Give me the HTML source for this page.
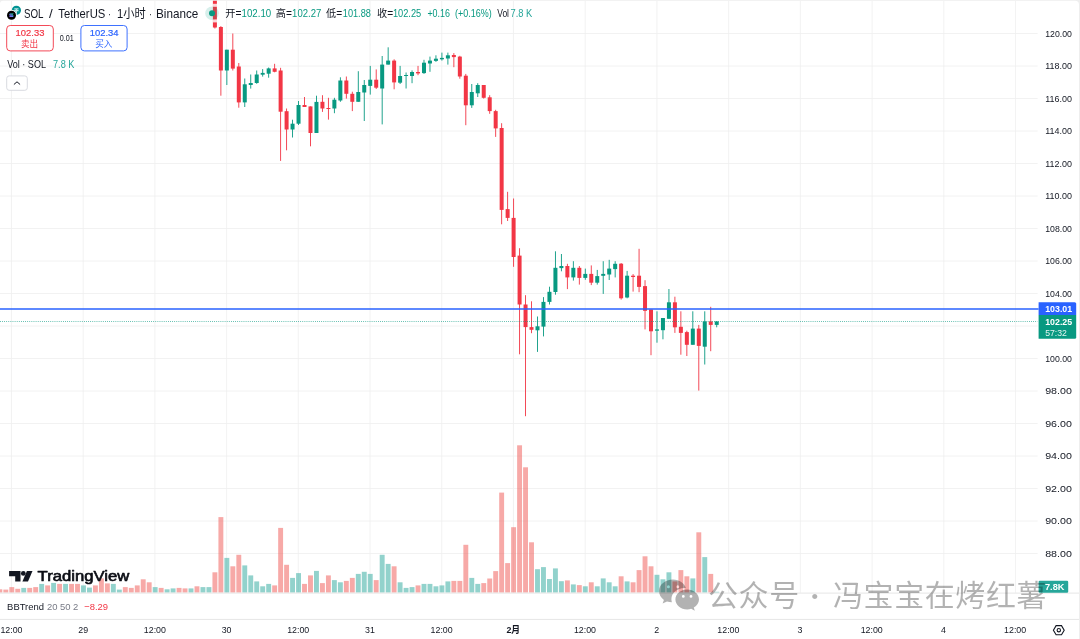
<!DOCTYPE html><html><head><meta charset="utf-8"><title>SOL / TetherUS</title><style>html,body{margin:0;padding:0;background:#fff}svg{display:block;will-change:transform;-webkit-font-smoothing:antialiased}</style></head><body><svg width="1080" height="639" viewBox="0 0 1080 639" font-family='"Liberation Sans", "Noto Sans CJK SC", sans-serif'>
<rect x="0" y="0" width="1080" height="639" fill="#fff"/>
<g stroke="#efefef" stroke-width="0.8" fill="none"><line x1="11.44" y1="1" x2="11.44" y2="592.8"/><line x1="83.16" y1="1" x2="83.16" y2="592.8"/><line x1="154.88" y1="1" x2="154.88" y2="592.8"/><line x1="226.60" y1="1" x2="226.60" y2="592.8"/><line x1="298.32" y1="1" x2="298.32" y2="592.8"/><line x1="370.04" y1="1" x2="370.04" y2="592.8"/><line x1="441.76" y1="1" x2="441.76" y2="592.8"/><line x1="513.48" y1="1" x2="513.48" y2="592.8"/><line x1="585.20" y1="1" x2="585.20" y2="592.8"/><line x1="656.92" y1="1" x2="656.92" y2="592.8"/><line x1="728.64" y1="1" x2="728.64" y2="592.8"/><line x1="800.36" y1="1" x2="800.36" y2="592.8"/><line x1="872.08" y1="1" x2="872.08" y2="592.8"/><line x1="943.80" y1="1" x2="943.80" y2="592.8"/><line x1="1015.52" y1="1" x2="1015.52" y2="592.8"/><line x1="0" y1="553.50" x2="1037.6" y2="553.50"/><line x1="0" y1="521.00" x2="1037.6" y2="521.00"/><line x1="0" y1="488.50" x2="1037.6" y2="488.50"/><line x1="0" y1="456.00" x2="1037.6" y2="456.00"/><line x1="0" y1="423.50" x2="1037.6" y2="423.50"/><line x1="0" y1="391.00" x2="1037.6" y2="391.00"/><line x1="0" y1="358.50" x2="1037.6" y2="358.50"/><line x1="0" y1="326.00" x2="1037.6" y2="326.00"/><line x1="0" y1="293.50" x2="1037.6" y2="293.50"/><line x1="0" y1="261.00" x2="1037.6" y2="261.00"/><line x1="0" y1="228.50" x2="1037.6" y2="228.50"/><line x1="0" y1="196.00" x2="1037.6" y2="196.00"/><line x1="0" y1="163.50" x2="1037.6" y2="163.50"/><line x1="0" y1="131.00" x2="1037.6" y2="131.00"/><line x1="0" y1="98.50" x2="1037.6" y2="98.50"/><line x1="0" y1="66.00" x2="1037.6" y2="66.00"/><line x1="0" y1="33.50" x2="1037.6" y2="33.50"/></g>
<g fill="#ef5350" fill-opacity="0.5"><rect x="-2.61" y="589.30" width="4.9" height="3.30"/><rect x="3.36" y="589.60" width="4.9" height="3.00"/><rect x="9.34" y="587.10" width="4.9" height="5.50"/><rect x="15.31" y="588.80" width="4.9" height="3.80"/><rect x="27.26" y="587.90" width="4.9" height="4.70"/><rect x="33.23" y="587.10" width="4.9" height="5.50"/><rect x="45.18" y="585.40" width="4.9" height="7.20"/><rect x="57.13" y="583.90" width="4.9" height="8.70"/><rect x="69.08" y="583.90" width="4.9" height="8.70"/><rect x="75.05" y="583.90" width="4.9" height="8.70"/><rect x="92.97" y="585.40" width="4.9" height="7.20"/><rect x="98.95" y="578.40" width="4.9" height="14.20"/><rect x="104.92" y="583.40" width="4.9" height="9.20"/><rect x="122.84" y="587.10" width="4.9" height="5.50"/><rect x="128.82" y="587.90" width="4.9" height="4.70"/><rect x="134.79" y="585.40" width="4.9" height="7.20"/><rect x="140.76" y="579.30" width="4.9" height="13.30"/><rect x="146.74" y="582.30" width="4.9" height="10.30"/><rect x="158.69" y="587.90" width="4.9" height="4.70"/><rect x="176.61" y="587.90" width="4.9" height="4.70"/><rect x="182.58" y="588.40" width="4.9" height="4.20"/><rect x="194.53" y="586.30" width="4.9" height="6.30"/><rect x="212.45" y="572.30" width="4.9" height="20.30"/><rect x="218.43" y="517.10" width="4.9" height="75.50"/><rect x="230.37" y="566.30" width="4.9" height="26.30"/><rect x="236.35" y="554.80" width="4.9" height="37.80"/><rect x="272.19" y="585.40" width="4.9" height="7.20"/><rect x="278.17" y="527.90" width="4.9" height="64.70"/><rect x="284.14" y="564.80" width="4.9" height="27.80"/><rect x="302.06" y="583.90" width="4.9" height="8.70"/><rect x="308.04" y="575.40" width="4.9" height="17.20"/><rect x="319.98" y="583.10" width="4.9" height="9.50"/><rect x="325.96" y="575.40" width="4.9" height="17.20"/><rect x="343.88" y="580.90" width="4.9" height="11.70"/><rect x="349.85" y="577.90" width="4.9" height="14.70"/><rect x="373.75" y="580.10" width="4.9" height="12.50"/><rect x="391.67" y="566.30" width="4.9" height="26.30"/><rect x="415.57" y="585.40" width="4.9" height="7.20"/><rect x="451.41" y="580.90" width="4.9" height="11.70"/><rect x="457.39" y="580.90" width="4.9" height="11.70"/><rect x="463.36" y="544.80" width="4.9" height="47.80"/><rect x="481.28" y="583.10" width="4.9" height="9.50"/><rect x="487.26" y="578.50" width="4.9" height="14.10"/><rect x="493.23" y="571.10" width="4.9" height="21.50"/><rect x="499.20" y="492.60" width="4.9" height="100.00"/><rect x="505.18" y="563.10" width="4.9" height="29.50"/><rect x="511.15" y="527.20" width="4.9" height="65.40"/><rect x="517.13" y="445.30" width="4.9" height="147.30"/><rect x="523.10" y="467.30" width="4.9" height="125.30"/><rect x="529.07" y="542.30" width="4.9" height="50.30"/><rect x="564.92" y="580.40" width="4.9" height="12.20"/><rect x="576.87" y="585.10" width="4.9" height="7.50"/><rect x="588.81" y="582.30" width="4.9" height="10.30"/><rect x="618.68" y="576.30" width="4.9" height="16.30"/><rect x="630.63" y="582.30" width="4.9" height="10.30"/><rect x="636.61" y="570.10" width="4.9" height="22.50"/><rect x="642.58" y="556.30" width="4.9" height="36.30"/><rect x="648.55" y="566.30" width="4.9" height="26.30"/><rect x="672.45" y="581.40" width="4.9" height="11.20"/><rect x="678.42" y="570.10" width="4.9" height="22.50"/><rect x="684.40" y="576.30" width="4.9" height="16.30"/><rect x="696.35" y="532.30" width="4.9" height="60.30"/><rect x="708.29" y="573.90" width="4.9" height="18.70"/></g>
<g fill="#26a69a" fill-opacity="0.5"><rect x="21.28" y="587.90" width="4.9" height="4.70"/><rect x="39.21" y="583.90" width="4.9" height="8.70"/><rect x="51.15" y="582.90" width="4.9" height="9.70"/><rect x="63.10" y="583.90" width="4.9" height="8.70"/><rect x="81.02" y="585.40" width="4.9" height="7.20"/><rect x="87.00" y="587.60" width="4.9" height="5.00"/><rect x="110.89" y="583.90" width="4.9" height="8.70"/><rect x="116.87" y="589.60" width="4.9" height="3.00"/><rect x="152.71" y="587.10" width="4.9" height="5.50"/><rect x="164.66" y="589.30" width="4.9" height="3.30"/><rect x="170.63" y="588.40" width="4.9" height="4.20"/><rect x="188.56" y="588.40" width="4.9" height="4.20"/><rect x="200.50" y="587.10" width="4.9" height="5.50"/><rect x="206.48" y="587.10" width="4.9" height="5.50"/><rect x="224.40" y="557.90" width="4.9" height="34.70"/><rect x="242.32" y="565.40" width="4.9" height="27.20"/><rect x="248.30" y="575.40" width="4.9" height="17.20"/><rect x="254.27" y="581.40" width="4.9" height="11.20"/><rect x="260.24" y="586.30" width="4.9" height="6.30"/><rect x="266.22" y="583.90" width="4.9" height="8.70"/><rect x="290.11" y="577.90" width="4.9" height="14.70"/><rect x="296.09" y="573.10" width="4.9" height="19.50"/><rect x="314.01" y="570.90" width="4.9" height="21.70"/><rect x="331.93" y="580.10" width="4.9" height="12.50"/><rect x="337.91" y="582.30" width="4.9" height="10.30"/><rect x="355.83" y="573.90" width="4.9" height="18.70"/><rect x="361.80" y="571.80" width="4.9" height="20.80"/><rect x="367.78" y="573.90" width="4.9" height="18.70"/><rect x="379.72" y="554.80" width="4.9" height="37.80"/><rect x="385.70" y="563.90" width="4.9" height="28.70"/><rect x="397.65" y="582.30" width="4.9" height="10.30"/><rect x="403.62" y="587.90" width="4.9" height="4.70"/><rect x="409.59" y="587.10" width="4.9" height="5.50"/><rect x="421.54" y="583.90" width="4.9" height="8.70"/><rect x="427.52" y="583.90" width="4.9" height="8.70"/><rect x="433.49" y="586.30" width="4.9" height="6.30"/><rect x="439.46" y="585.40" width="4.9" height="7.20"/><rect x="445.44" y="581.40" width="4.9" height="11.20"/><rect x="469.33" y="577.90" width="4.9" height="14.70"/><rect x="475.31" y="583.90" width="4.9" height="8.70"/><rect x="535.05" y="569.20" width="4.9" height="23.40"/><rect x="541.02" y="567.10" width="4.9" height="25.50"/><rect x="547.00" y="579.00" width="4.9" height="13.60"/><rect x="552.97" y="568.40" width="4.9" height="24.20"/><rect x="558.94" y="581.20" width="4.9" height="11.40"/><rect x="570.89" y="584.40" width="4.9" height="8.20"/><rect x="582.84" y="586.30" width="4.9" height="6.30"/><rect x="594.79" y="586.30" width="4.9" height="6.30"/><rect x="600.76" y="578.40" width="4.9" height="14.20"/><rect x="606.74" y="582.30" width="4.9" height="10.30"/><rect x="612.71" y="586.30" width="4.9" height="6.30"/><rect x="624.66" y="581.40" width="4.9" height="11.20"/><rect x="654.53" y="574.80" width="4.9" height="17.80"/><rect x="660.50" y="579.30" width="4.9" height="13.30"/><rect x="666.48" y="572.30" width="4.9" height="20.30"/><rect x="690.37" y="578.40" width="4.9" height="14.20"/><rect x="702.32" y="557.10" width="4.9" height="35.50"/><rect x="714.27" y="591.80" width="4.9" height="0.80"/></g>
<g fill="#f23645"><rect x="214.45" y="0.00" width="0.9" height="28.50"/><rect x="212.90" y="0.00" width="4" height="27.50"/><rect x="220.43" y="26.10" width="0.9" height="69.60"/><rect x="218.88" y="27.00" width="4" height="43.50"/><rect x="232.37" y="33.50" width="0.9" height="37.00"/><rect x="230.82" y="49.70" width="4" height="18.90"/><rect x="238.35" y="63.00" width="0.9" height="44.70"/><rect x="236.80" y="66.50" width="4" height="35.90"/><rect x="274.19" y="63.80" width="0.9" height="8.50"/><rect x="272.64" y="68.40" width="4" height="3.40"/><rect x="280.17" y="67.80" width="0.9" height="93.10"/><rect x="278.62" y="70.50" width="4" height="41.20"/><rect x="286.14" y="108.50" width="0.9" height="41.80"/><rect x="284.59" y="111.20" width="4" height="18.30"/><rect x="304.06" y="97.00" width="0.9" height="10.00"/><rect x="302.51" y="105.00" width="4" height="2.00"/><rect x="310.04" y="106.40" width="0.9" height="39.90"/><rect x="308.49" y="106.40" width="4" height="26.60"/><rect x="321.98" y="95.20" width="0.9" height="16.70"/><rect x="320.43" y="101.80" width="4" height="6.70"/><rect x="327.96" y="97.80" width="0.9" height="21.80"/><rect x="326.41" y="108.00" width="4" height="1.00"/><rect x="345.88" y="76.50" width="0.9" height="22.10"/><rect x="344.33" y="80.50" width="4" height="13.30"/><rect x="351.85" y="91.70" width="0.9" height="19.40"/><rect x="350.30" y="93.80" width="4" height="8.00"/><rect x="375.75" y="69.40" width="0.9" height="19.60"/><rect x="374.20" y="79.70" width="4" height="8.00"/><rect x="393.67" y="59.30" width="0.9" height="30.00"/><rect x="392.12" y="60.60" width="4" height="21.80"/><rect x="417.57" y="65.90" width="0.9" height="9.30"/><rect x="416.02" y="72.00" width="4" height="1.40"/><rect x="453.41" y="53.10" width="0.9" height="14.10"/><rect x="451.86" y="55.00" width="4" height="2.10"/><rect x="459.39" y="55.80" width="0.9" height="22.90"/><rect x="457.84" y="56.60" width="4" height="19.90"/><rect x="465.36" y="73.90" width="0.9" height="51.30"/><rect x="463.81" y="75.70" width="4" height="29.60"/><rect x="483.28" y="85.00" width="0.9" height="13.60"/><rect x="481.73" y="85.00" width="4" height="12.80"/><rect x="489.26" y="95.20" width="0.9" height="18.60"/><rect x="487.71" y="97.30" width="4" height="13.80"/><rect x="495.23" y="109.80" width="0.9" height="27.10"/><rect x="493.68" y="111.10" width="4" height="17.30"/><rect x="501.20" y="123.20" width="0.9" height="101.10"/><rect x="499.65" y="128.00" width="4" height="81.90"/><rect x="507.18" y="191.80" width="0.9" height="29.20"/><rect x="505.63" y="209.10" width="4" height="8.80"/><rect x="513.15" y="198.50" width="0.9" height="68.30"/><rect x="511.60" y="217.90" width="4" height="39.10"/><rect x="519.13" y="248.20" width="0.9" height="106.10"/><rect x="517.58" y="255.60" width="4" height="48.90"/><rect x="525.10" y="295.20" width="0.9" height="121.00"/><rect x="523.55" y="304.50" width="4" height="22.60"/><rect x="531.07" y="301.30" width="0.9" height="31.90"/><rect x="529.52" y="327.10" width="4" height="2.70"/><rect x="566.92" y="263.80" width="0.9" height="25.30"/><rect x="565.37" y="266.00" width="4" height="11.40"/><rect x="578.87" y="266.00" width="0.9" height="18.60"/><rect x="577.32" y="267.80" width="4" height="10.10"/><rect x="590.81" y="265.40" width="0.9" height="19.70"/><rect x="589.26" y="273.90" width="4" height="8.80"/><rect x="620.68" y="263.00" width="0.9" height="36.60"/><rect x="619.13" y="263.70" width="4" height="34.60"/><rect x="632.63" y="274.10" width="0.9" height="17.50"/><rect x="631.08" y="275.70" width="4" height="1.30"/><rect x="638.61" y="248.80" width="0.9" height="43.40"/><rect x="637.06" y="275.70" width="4" height="11.20"/><rect x="644.58" y="280.20" width="0.9" height="49.20"/><rect x="643.03" y="286.10" width="4" height="24.70"/><rect x="650.55" y="309.50" width="0.9" height="45.70"/><rect x="649.00" y="309.50" width="4" height="21.80"/><rect x="674.45" y="296.70" width="0.9" height="36.20"/><rect x="672.90" y="302.30" width="4" height="25.00"/><rect x="680.42" y="311.30" width="0.9" height="43.40"/><rect x="678.87" y="326.80" width="4" height="6.10"/><rect x="686.40" y="330.70" width="0.9" height="25.30"/><rect x="684.85" y="332.10" width="4" height="12.70"/><rect x="698.35" y="324.90" width="0.9" height="65.70"/><rect x="696.80" y="328.60" width="4" height="17.30"/><rect x="710.29" y="306.80" width="0.9" height="44.40"/><rect x="708.74" y="321.40" width="4" height="3.50"/></g>
<g fill="#089981"><rect x="226.40" y="49.70" width="0.9" height="35.30"/><rect x="224.85" y="49.70" width="4" height="20.80"/><rect x="244.32" y="78.50" width="0.9" height="28.50"/><rect x="242.77" y="84.30" width="4" height="18.10"/><rect x="250.30" y="74.50" width="0.9" height="14.10"/><rect x="248.75" y="83.00" width="4" height="2.00"/><rect x="256.27" y="70.50" width="0.9" height="13.30"/><rect x="254.72" y="74.50" width="4" height="8.50"/><rect x="262.24" y="69.10" width="0.9" height="7.50"/><rect x="260.69" y="72.90" width="4" height="1.80"/><rect x="268.22" y="67.50" width="0.9" height="10.20"/><rect x="266.67" y="68.40" width="4" height="5.30"/><rect x="292.11" y="119.70" width="0.9" height="17.80"/><rect x="290.56" y="123.70" width="4" height="5.80"/><rect x="298.09" y="101.00" width="0.9" height="24.00"/><rect x="296.54" y="105.00" width="4" height="18.70"/><rect x="316.01" y="95.70" width="0.9" height="37.30"/><rect x="314.46" y="101.90" width="4" height="31.10"/><rect x="333.93" y="97.80" width="0.9" height="15.40"/><rect x="332.38" y="99.70" width="4" height="8.80"/><rect x="339.91" y="77.30" width="0.9" height="24.50"/><rect x="338.36" y="80.50" width="4" height="20.00"/><rect x="357.83" y="71.20" width="0.9" height="30.60"/><rect x="356.28" y="92.00" width="4" height="9.80"/><rect x="363.80" y="80.00" width="0.9" height="41.00"/><rect x="362.25" y="85.00" width="4" height="7.50"/><rect x="369.78" y="65.90" width="0.9" height="28.70"/><rect x="368.23" y="79.70" width="4" height="6.20"/><rect x="381.72" y="56.00" width="0.9" height="68.40"/><rect x="380.17" y="64.60" width="4" height="23.90"/><rect x="387.70" y="47.30" width="0.9" height="17.30"/><rect x="386.15" y="60.60" width="4" height="4.00"/><rect x="399.65" y="65.90" width="0.9" height="18.10"/><rect x="398.10" y="76.00" width="4" height="6.70"/><rect x="405.62" y="72.50" width="0.9" height="16.00"/><rect x="404.07" y="75.00" width="4" height="1.00"/><rect x="411.59" y="70.40" width="0.9" height="12.80"/><rect x="410.04" y="72.00" width="4" height="4.00"/><rect x="423.54" y="59.80" width="0.9" height="14.10"/><rect x="421.99" y="62.70" width="4" height="10.40"/><rect x="429.52" y="56.60" width="0.9" height="15.20"/><rect x="427.97" y="60.60" width="4" height="2.90"/><rect x="435.49" y="55.30" width="0.9" height="6.60"/><rect x="433.94" y="58.70" width="4" height="2.20"/><rect x="441.46" y="52.60" width="0.9" height="8.00"/><rect x="439.91" y="57.90" width="4" height="1.40"/><rect x="447.44" y="52.60" width="0.9" height="12.00"/><rect x="445.89" y="55.30" width="4" height="3.20"/><rect x="471.33" y="84.00" width="0.9" height="23.90"/><rect x="469.78" y="92.00" width="4" height="13.30"/><rect x="477.31" y="83.20" width="0.9" height="13.80"/><rect x="475.76" y="85.00" width="4" height="8.30"/><rect x="537.05" y="316.50" width="0.9" height="35.40"/><rect x="535.50" y="326.30" width="4" height="4.00"/><rect x="543.02" y="297.10" width="0.9" height="39.30"/><rect x="541.47" y="301.90" width="4" height="24.70"/><rect x="549.00" y="286.70" width="0.9" height="17.80"/><rect x="547.45" y="291.80" width="4" height="10.10"/><rect x="554.97" y="251.30" width="0.9" height="43.40"/><rect x="553.42" y="267.80" width="4" height="24.20"/><rect x="560.94" y="254.00" width="0.9" height="17.30"/><rect x="559.39" y="266.00" width="4" height="2.10"/><rect x="572.89" y="261.20" width="0.9" height="19.40"/><rect x="571.34" y="267.80" width="4" height="9.60"/><rect x="584.84" y="268.60" width="0.9" height="11.20"/><rect x="583.29" y="273.90" width="4" height="4.00"/><rect x="596.79" y="269.90" width="0.9" height="14.70"/><rect x="595.24" y="276.10" width="4" height="6.60"/><rect x="602.76" y="261.20" width="0.9" height="32.70"/><rect x="601.21" y="273.90" width="4" height="1.90"/><rect x="608.74" y="259.80" width="0.9" height="20.20"/><rect x="607.19" y="268.60" width="4" height="5.90"/><rect x="614.71" y="261.20" width="0.9" height="16.20"/><rect x="613.16" y="263.80" width="4" height="5.30"/><rect x="626.66" y="270.90" width="0.9" height="27.40"/><rect x="625.11" y="275.70" width="4" height="21.80"/><rect x="656.53" y="311.30" width="0.9" height="31.40"/><rect x="654.98" y="329.40" width="4" height="1.30"/><rect x="662.50" y="318.00" width="0.9" height="21.30"/><rect x="660.95" y="318.00" width="4" height="12.20"/><rect x="668.48" y="289.00" width="0.9" height="29.80"/><rect x="666.93" y="302.30" width="4" height="16.50"/><rect x="692.37" y="311.30" width="0.9" height="33.50"/><rect x="690.82" y="328.60" width="4" height="16.20"/><rect x="704.32" y="311.30" width="0.9" height="53.20"/><rect x="702.77" y="321.40" width="4" height="25.30"/><rect x="716.27" y="321.40" width="0.9" height="5.90"/><rect x="714.72" y="321.40" width="4" height="3.50"/></g>
<line x1="0" y1="309.1" x2="1038.6" y2="309.1" stroke="#2962ff" stroke-width="1.5"/>
<line x1="0" y1="321.5" x2="1037.6" y2="321.5" stroke="#089981" stroke-width="0.8" stroke-dasharray="0.75 1.35"/>
<line x1="0" y1="593.1" x2="1080" y2="593.1" stroke="#e6e6e6" stroke-width="1"/>
<line x1="0" y1="619.4" x2="1080" y2="619.4" stroke="#e6e6e6" stroke-width="1"/>
<g font-size="9.5" fill="#131722"><text x="1045.2" y="556.60" textLength="26.7" lengthAdjust="spacingAndGlyphs">88.00</text><text x="1045.2" y="524.10" textLength="26.7" lengthAdjust="spacingAndGlyphs">90.00</text><text x="1045.2" y="491.60" textLength="26.7" lengthAdjust="spacingAndGlyphs">92.00</text><text x="1045.2" y="459.10" textLength="26.7" lengthAdjust="spacingAndGlyphs">94.00</text><text x="1045.2" y="426.60" textLength="26.7" lengthAdjust="spacingAndGlyphs">96.00</text><text x="1045.2" y="394.10" textLength="26.7" lengthAdjust="spacingAndGlyphs">98.00</text><text x="1045.2" y="361.60" textLength="26.7" lengthAdjust="spacingAndGlyphs">100.00</text><text x="1045.2" y="329.10" textLength="26.7" lengthAdjust="spacingAndGlyphs">102.00</text><text x="1045.2" y="296.60" textLength="26.7" lengthAdjust="spacingAndGlyphs">104.00</text><text x="1045.2" y="264.10" textLength="26.7" lengthAdjust="spacingAndGlyphs">106.00</text><text x="1045.2" y="231.60" textLength="26.7" lengthAdjust="spacingAndGlyphs">108.00</text><text x="1045.2" y="199.10" textLength="26.7" lengthAdjust="spacingAndGlyphs">110.00</text><text x="1045.2" y="166.60" textLength="26.7" lengthAdjust="spacingAndGlyphs">112.00</text><text x="1045.2" y="134.10" textLength="26.7" lengthAdjust="spacingAndGlyphs">114.00</text><text x="1045.2" y="101.60" textLength="26.7" lengthAdjust="spacingAndGlyphs">116.00</text><text x="1045.2" y="69.10" textLength="26.7" lengthAdjust="spacingAndGlyphs">118.00</text><text x="1045.2" y="36.60" textLength="26.7" lengthAdjust="spacingAndGlyphs">120.00</text></g>
<path d="M1038.6 302.2h36.1a1.5 1.5 0 0 1 1.5 1.5v11.4h-37.6z" fill="#2962ff"/>
<path d="M1038.6 315.1h37.6v22.1a1.5 1.5 0 0 1-1.5 1.5h-36.1z" fill="#089981"/>
<g font-size="9.7" fill="#fff"><text x="1045.2" y="312.1" font-weight="bold" textLength="27" lengthAdjust="spacingAndGlyphs">103.01</text><text x="1045.2" y="324.8" font-weight="bold" textLength="27" lengthAdjust="spacingAndGlyphs">102.25</text><text x="1045.2" y="335.6" fill="#e3f5f1" textLength="21.7" lengthAdjust="spacingAndGlyphs">57:32</text></g>
<rect x="1038.6" y="580.7" width="29.6" height="12.1" rx="1.2" fill="#26a69a"/>
<text x="1045" y="590.4" font-size="9.7" font-weight="bold" fill="#fff" textLength="19.4" lengthAdjust="spacingAndGlyphs">7.8K</text>
<g font-size="9.5" fill="#131722" text-anchor="middle"><text transform="translate(11.49,632.8) scale(0.93,1)">12:00</text><text transform="translate(83.17,632.8) scale(0.93,1)">29</text><text transform="translate(154.86,632.8) scale(0.93,1)">12:00</text><text transform="translate(226.55,632.8) scale(0.93,1)">30</text><text transform="translate(298.24,632.8) scale(0.93,1)">12:00</text><text transform="translate(369.93,632.8) scale(0.93,1)">31</text><text transform="translate(441.61,632.8) scale(0.93,1)">12:00</text><text transform="translate(513.30,632.8) scale(0.93,1)" font-weight="bold">2月</text><text transform="translate(584.99,632.8) scale(0.93,1)">12:00</text><text transform="translate(656.68,632.8) scale(0.93,1)">2</text><text transform="translate(728.37,632.8) scale(0.93,1)">12:00</text><text transform="translate(800.05,632.8) scale(0.93,1)">3</text><text transform="translate(871.74,632.8) scale(0.93,1)">12:00</text><text transform="translate(943.43,632.8) scale(0.93,1)">4</text><text transform="translate(1015.12,632.8) scale(0.93,1)">12:00</text></g>
<g fill="none" stroke="#131722" stroke-width="1.1"><path d="M1053.4 630.2l2.7-4.6h5.4l2.7 4.6-2.7 4.6h-5.4z"/><circle cx="1058.8" cy="630.2" r="1.7"/></g>
<text x="7.1" y="609.9" font-size="9.7" textLength="101" lengthAdjust="spacingAndGlyphs"><tspan fill="#131722">BBTrend</tspan><tspan fill="#787b86" dx="3">20 50 2</tspan><tspan fill="#f23645" dx="6">−8.29</tspan></text>
<defs><linearGradient id="sg" x1="0" y1="1" x2="1" y2="0"><stop offset="0" stop-color="#9945ff"/><stop offset="0.5" stop-color="#5f8ff0"/><stop offset="1" stop-color="#14f195"/></linearGradient></defs>
<circle cx="16.4" cy="10.3" r="4.6" fill="#009393"/><path d="M14.3 8.3h4.2v1.1h-1.5v.7c1.100.1 1.900.3 1.900.6s-.8.500-1.900.6v2.100h-1.200v-2.100c-1.100-.1-1.900-.3-1.900-.6s.8-.5 1.900-.6v-.7h-1.500z" fill="#fff" fill-opacity="0.75"/>
<circle cx="11.5" cy="15.2" r="5.4" fill="#fff"/><circle cx="11.5" cy="15.2" r="4.5" fill="#000"/>
<path d="M9.9 13.5h3.900l-.9.9h-3.900zM9 14.800h3.900l.9.900h-3.900zM9.900 16.100h3.900l-.9.900h-3.900z" fill="url(#sg)"/>
<g font-size="12.2" fill="#131722"><text x="24" y="17.6" textLength="19.5" lengthAdjust="spacingAndGlyphs">SOL</text><text x="49" y="17.6" textLength="3.7" lengthAdjust="spacingAndGlyphs">/</text><text x="58.3" y="17.6" textLength="47" lengthAdjust="spacingAndGlyphs">TetherUS</text><text x="108.1" y="17.6" textLength="2.8" lengthAdjust="spacingAndGlyphs">·</text><text x="116.9" y="17.6" textLength="28.8" lengthAdjust="spacingAndGlyphs">1小时</text><text x="148.9" y="17.6" textLength="2.8" lengthAdjust="spacingAndGlyphs">·</text><text x="156" y="17.6" textLength="42.3" lengthAdjust="spacingAndGlyphs">Binance</text></g>
<rect x="212.6" y="3.8" width="5" height="3" fill="#fff" fill-opacity="0.8"/><rect x="212.6" y="19.4" width="5" height="3" fill="#fff" fill-opacity="0.8"/>
<circle cx="212" cy="13.2" r="6.8" fill="#089981" fill-opacity="0.16"/><circle cx="212" cy="13.2" r="3" fill="#089981"/>
<g font-size="10.2"><text x="225.3" y="17.3" fill="#131722">开=</text><text x="241.6" y="17.3" fill="#089981" textLength="29.6" lengthAdjust="spacingAndGlyphs">102.10</text><text x="275.8" y="17.3" fill="#131722">高=</text><text x="292.1" y="17.3" fill="#089981" textLength="29.2" lengthAdjust="spacingAndGlyphs">102.27</text><text x="326.1" y="17.3" fill="#131722">低=</text><text x="342.8" y="17.3" fill="#089981" textLength="28.1" lengthAdjust="spacingAndGlyphs">101.88</text><text x="377" y="17.3" fill="#131722">收=</text><text x="392.9" y="17.3" fill="#089981" textLength="28.3" lengthAdjust="spacingAndGlyphs">102.25</text><text x="427.4" y="17.3" fill="#089981" textLength="22.6" lengthAdjust="spacingAndGlyphs">+0.16</text><text x="455" y="17.3" fill="#089981" textLength="36.7" lengthAdjust="spacingAndGlyphs">(+0.16%)</text><text x="497.2" y="17.3" fill="#131722" textLength="11.8" lengthAdjust="spacingAndGlyphs">Vol</text><text x="510.5" y="17.3" fill="#26a69a" textLength="21.8" lengthAdjust="spacingAndGlyphs">7.8 K</text></g>
<rect x="6.7" y="25.5" width="46.6" height="25.4" rx="3.5" fill="#fff" stroke="#f23645" stroke-width="0.9"/>
<rect x="80.9" y="25.5" width="46.2" height="25.4" rx="3.5" fill="#fff" stroke="#2962ff" stroke-width="0.9"/>
<g font-size="9.8"><text x="15.6" y="35.8" fill="#f23645" stroke="#f23645" stroke-width="0.2" textLength="28.8" lengthAdjust="spacingAndGlyphs">102.33</text><text x="89.8" y="35.8" fill="#2962ff" stroke="#2962ff" stroke-width="0.2" textLength="28.8" lengthAdjust="spacingAndGlyphs">102.34</text></g><g font-size="8.6" text-anchor="middle"><text x="29.6" y="47.2" fill="#f23645">卖出</text><text x="103.8" y="47.2" fill="#2962ff">买入</text></g><text x="59.8" y="40.9" font-size="8.6" fill="#131722" textLength="14" lengthAdjust="spacingAndGlyphs">0.01</text>
<g font-size="10.4"><text x="7.2" y="67.6" fill="#131722" textLength="38.8" lengthAdjust="spacingAndGlyphs">Vol · SOL</text><text x="53" y="67.6" fill="#26a69a" textLength="21.4" lengthAdjust="spacingAndGlyphs">7.8 K</text></g>
<rect x="6.7" y="75.9" width="20.6" height="14.4" rx="2.5" fill="#fff" stroke="#d4d6dc" stroke-width="0.9"/><path d="M13.9 84.5l3.1-2.7 3.1 2.7" fill="none" stroke="#131722" stroke-width="1"/>
<g fill="#131722"><path d="M9.1 571h11.4v10.4h-5.3v-5.2h-6.1z"/><circle cx="23.3" cy="573.4" r="2.4"/><path d="M26.9 571h5.6l-4.5 10.4h-5.6z"/></g>
<text x="37.6" y="581.4" font-size="14.8" fill="#0c0e15" stroke="#0c0e15" stroke-width="0.65" stroke-linejoin="round" textLength="91.8" lengthAdjust="spacingAndGlyphs">TradingView</text>
<g fill="#000" fill-opacity="0.3"><path d="M673 579.5c-7.8 0-14 5.2-14 11.6 0 3.5 1.9 6.6 4.9 8.8l-1.3 3.7 4.4-2.2c1.6.5 3.2.8 4.9.9-.3-1-.5-2-.5-3.100 0-6.200 5.800-11.200 12.900-11.200.5 0 1 0 1.500.1C684.500 583.100 679.300 579.500 673 579.500zM668.400 585.200a1.500 1.500 0 1 1 0 3 1.500 1.500 0 0 1 0-3zM677.800 585.200a1.500 1.500 0 1 1 0 3 1.500 1.500 0 0 1 0-3z" fill-rule="evenodd"/><path d="M699 599.500c0-5.500-5.300-9.900-11.800-9.900s-11.800 4.400-11.800 9.900 5.300 9.900 11.800 9.900c1.400 0 2.800-.2 4-.6l3.600 1.900-1-3.100C697 605.600 699 602.700 699 599.500zM683.300 595a1.400 1.400 0 1 1 0 2.800 1.400 1.400 0 0 1 0-2.800zM691 595a1.400 1.400 0 1 1 0 2.800 1.400 1.400 0 0 1 0-2.800z" fill-rule="evenodd"/></g>
<g fill="#000" fill-opacity="0.3" font-family='"Noto Sans CJK SC", sans-serif'><text x="708.1 738.5 769.2" y="606.4" font-size="30">公众号</text><text x="802.7" y="604.9" font-size="24">·</text><text x="832.9 863.6 894.3 924.7 955.2 986.0 1016.5" y="606.4" font-size="30">冯宝宝在烤红薯</text></g>
<path d="M0 0h1080v639h-1v-634.200a4 4 0 0 0-4-4h-1072a3 3 0 0 0-3 3z" fill="#eeeeee"/>
</svg></body></html>
